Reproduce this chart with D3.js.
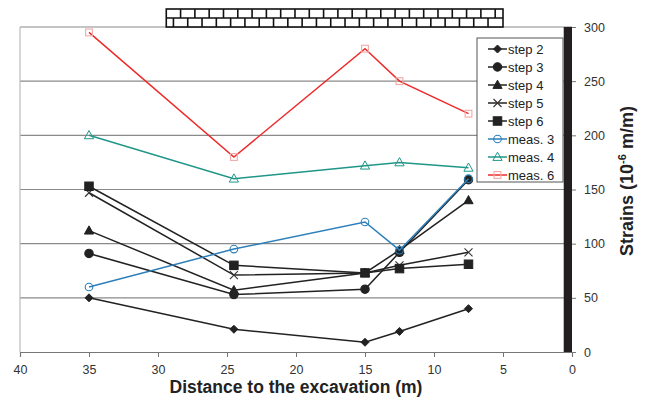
<!DOCTYPE html>
<html>
<head>
<meta charset="utf-8">
<script src="https://cdn.jsdelivr.net/npm/d3@7"></script>
<style>
  html, body { margin: 0; padding: 0; background: #fff; }
  svg { display: block; font-family: "Liberation Sans", Arial, sans-serif; }
</style>
</head>
<body>
<svg id="chart" width="646" height="406"></svg>
<script>
// Distances to the excavation (m) at which strains were recorded
const distances = [35, 24.5, 15, 12.5, 7.5];

// Computed strains per excavation step (10^-6 m/m)
const step2 = [50, 21, 9, 19, 40];
const step3 = [91, 53, 58, 92, 159];
const step4 = [112, 57, 73, 94, 140];
const step5 = [147, 71, 73, 80, 92];
const step6 = [153, 80, 73, 77, 81];

// Measured strains (10^-6 m/m)
const meas3 = [60, 95, 120, 94, 160];
const meas4 = [200, 160, 172, 175, 170];
const meas6 = [295, 180, 280, 250, 220];

const xTicks = [40, 35, 30, 25, 20, 15, 10, 5, 0];
const yTicks = [0, 50, 100, 150, 200, 250, 300];

const seriesList = [
  { name: "step 2", values: step2, line: "#222", marker: "diamond", fill: "#222", stroke: "#222" },
  { name: "step 3", values: step3, line: "#222", marker: "circle", fill: "#222", stroke: "#222" },
  { name: "step 4", values: step4, line: "#222", marker: "triangle", fill: "#222", stroke: "#222" },
  { name: "step 5", values: step5, line: "#222", marker: "cross", fill: "none", stroke: "#333" },
  { name: "step 6", values: step6, line: "#222", marker: "square", fill: "#222", stroke: "#222" },
  { name: "meas. 3", values: meas3, line: "#2c7fba", marker: "circle", fill: "none", stroke: "#2c7fba", open: true },
  { name: "meas. 4", values: meas4, line: "#1f9688", marker: "triangle", fill: "none", stroke: "#1f9688", open: true },
  { name: "meas. 6", values: meas6, line: "#ee2a2a", marker: "square", fill: "none", stroke: "#f2aaa8", open: true }
];

const svg = d3.select("#chart");

const x = d3.scaleLinear().domain([40, 0]).range([20, 572]);
const y = d3.scaleLinear().domain([0, 300]).range([352, 27]);

const gridColor = "#8a8a8a";

// Horizontal gridlines
svg.append("g")
  .selectAll("line")
  .data(yTicks.filter(d => d > 0 && d < 300))
  .join("line")
  .attr("x1", x(40)).attr("x2", x(0))
  .attr("y1", d => y(d)).attr("y2", d => y(d))
  .attr("stroke", gridColor).attr("stroke-width", 1.2);

// Plot frame: top and left edges
svg.append("line")
  .attr("x1", x(40)).attr("x2", x(0))
  .attr("y1", y(300)).attr("y2", y(300))
  .attr("stroke", gridColor).attr("stroke-width", 1.2);
svg.append("line")
  .attr("x1", x(40)).attr("x2", x(40))
  .attr("y1", y(300)).attr("y2", y(0))
  .attr("stroke", "#bbb").attr("stroke-width", 1.2);

// Bottom axis
const xAxis = d3.axisBottom(x).tickValues(xTicks).tickSize(5).tickPadding(8)
  .tickFormat(d3.format("d"));
const gx = svg.append("g").attr("transform", `translate(0,${y(0)})`).call(xAxis);
gx.select(".domain").attr("stroke", "#777").attr("stroke-width", 1.2);
gx.selectAll(".tick line").attr("stroke", "#777");
gx.selectAll("text").attr("font-size", 12.5).attr("fill", "#333")
  .attr("font-family", "Liberation Sans, Arial, sans-serif");

// Excavation wall at zero distance
svg.append("rect")
  .attr("x", x(0.6)).attr("y", y(300))
  .attr("width", x(0) - x(0.6)).attr("height", y(0) - y(300))
  .attr("fill", "#231f20");

// Right axis
const yAxis = d3.axisRight(y).tickValues(yTicks).tickSize(4).tickPadding(8);
const gy = svg.append("g").attr("transform", `translate(${x(0)},0)`).call(yAxis);
gy.select(".domain").remove();
gy.selectAll(".tick line").attr("stroke", "#777");
gy.selectAll("text").attr("font-size", 12.5).attr("fill", "#333")
  .attr("font-family", "Liberation Sans, Arial, sans-serif");

// Brick wall sitting above the plot
const wall = svg.append("g");
const wallX0 = x(29.4), wallX1 = x(5.0);
const rowH = 9, brickW = 14.3;
const wallTop = y(300) - 2 * rowH;
wall.append("rect")
  .attr("x", wallX0).attr("y", wallTop)
  .attr("width", wallX1 - wallX0).attr("height", 2 * rowH)
  .attr("fill", "#fff").attr("stroke", "#111").attr("stroke-width", 1.6);
wall.append("line")
  .attr("x1", wallX0).attr("x2", wallX1)
  .attr("y1", wallTop + rowH).attr("y2", wallTop + rowH)
  .attr("stroke", "#111").attr("stroke-width", 1.6);
for (let r = 0; r < 2; r++) {
  const offset = r === 0 ? brickW : brickW / 2;
  for (let bx = wallX0 + offset; bx < wallX1 - 2; bx += brickW) {
    wall.append("line")
      .attr("x1", bx).attr("x2", bx)
      .attr("y1", wallTop + r * rowH).attr("y2", wallTop + (r + 1) * rowH)
      .attr("stroke", "#111").attr("stroke-width", 1.6);
  }
}

// Marker drawing
function drawMarker(g, type, cx, cy, s) {
  const fill = s.fill, stroke = s.stroke;
  if (type === "diamond") {
    g.append("path").attr("d", `M${cx},${cy - 4}L${cx + 4},${cy}L${cx},${cy + 4}L${cx - 4},${cy}Z`)
      .attr("fill", fill).attr("stroke", stroke);
  } else if (type === "circle") {
    g.append("circle").attr("cx", cx).attr("cy", cy).attr("r", s.open ? 3.8 : 4.2)
      .attr("fill", fill).attr("stroke", stroke).attr("stroke-width", 1.1);
  } else if (type === "triangle") {
    g.append("path").attr("d", `M${cx},${cy - 4.8}L${cx + 4.6},${cy + 3.4}L${cx - 4.6},${cy + 3.4}Z`)
      .attr("fill", fill).attr("stroke", stroke).attr("stroke-width", 1);
  } else if (type === "square") {
    const h = s.open ? 3.4 : 4.2;
    g.append("rect").attr("x", cx - h).attr("y", cy - h).attr("width", 2 * h).attr("height", 2 * h)
      .attr("fill", fill).attr("stroke", stroke).attr("stroke-width", 1.1);
  } else if (type === "cross") {
    g.append("path").attr("d", `M${cx - 4},${cy - 4}L${cx + 4},${cy + 4}M${cx - 4},${cy + 4}L${cx + 4},${cy - 4}`)
      .attr("stroke", stroke).attr("stroke-width", 1.1).attr("fill", "none");
  }
}

const line = d3.line().x((d, i) => x(distances[i])).y(d => y(d));

// Series: lines then markers
const plot = svg.append("g");
seriesList.forEach(s => {
  const g = plot.append("g");
  g.append("path").datum(s.values)
    .attr("d", line)
    .attr("fill", "none").attr("stroke", s.line).attr("stroke-width", 1.5);
  s.values.forEach((v, i) => drawMarker(g, s.marker, x(distances[i]), y(v), s));
});

// Legend
const legend = svg.append("g");
const lgX = 477, lgY = 38, lgW = 86, lgH = 144, rowStep = 18;
legend.append("rect")
  .attr("x", lgX).attr("y", lgY).attr("width", lgW).attr("height", lgH)
  .attr("fill", "#fff").attr("stroke", "#555").attr("stroke-width", 1);
seriesList.forEach((s, i) => {
  const cy = lgY + 11 + i * rowStep;
  const g = legend.append("g");
  g.append("line").attr("x1", lgX + 11).attr("x2", lgX + 30)
    .attr("y1", cy).attr("y2", cy).attr("stroke", s.line).attr("stroke-width", 1.5);
  drawMarker(g, s.marker, lgX + 20.5, cy, s);
  g.append("text").attr("x", lgX + 31).attr("y", cy + 4.5)
    .attr("font-size", 13).attr("fill", "#222").text(s.name);
});

// Axis titles
svg.append("text")
  .attr("x", x(20)).attr("y", 393)
  .attr("text-anchor", "middle")
  .attr("font-size", 17.5).attr("font-weight", "bold").attr("fill", "#222")
  .text("Distance to the excavation  (m)");

const yTitle = svg.append("text")
  .attr("transform", "translate(633,181) rotate(-90)")
  .attr("text-anchor", "middle")
  .attr("font-size", 18).attr("font-weight", "bold").attr("fill", "#222");
yTitle.append("tspan").text("Strains (10");
yTitle.append("tspan").attr("font-size", 11).attr("dy", -7).text("-6");
yTitle.append("tspan").attr("dy", 7).text(" m/m)");
</script>
</body>
</html>
